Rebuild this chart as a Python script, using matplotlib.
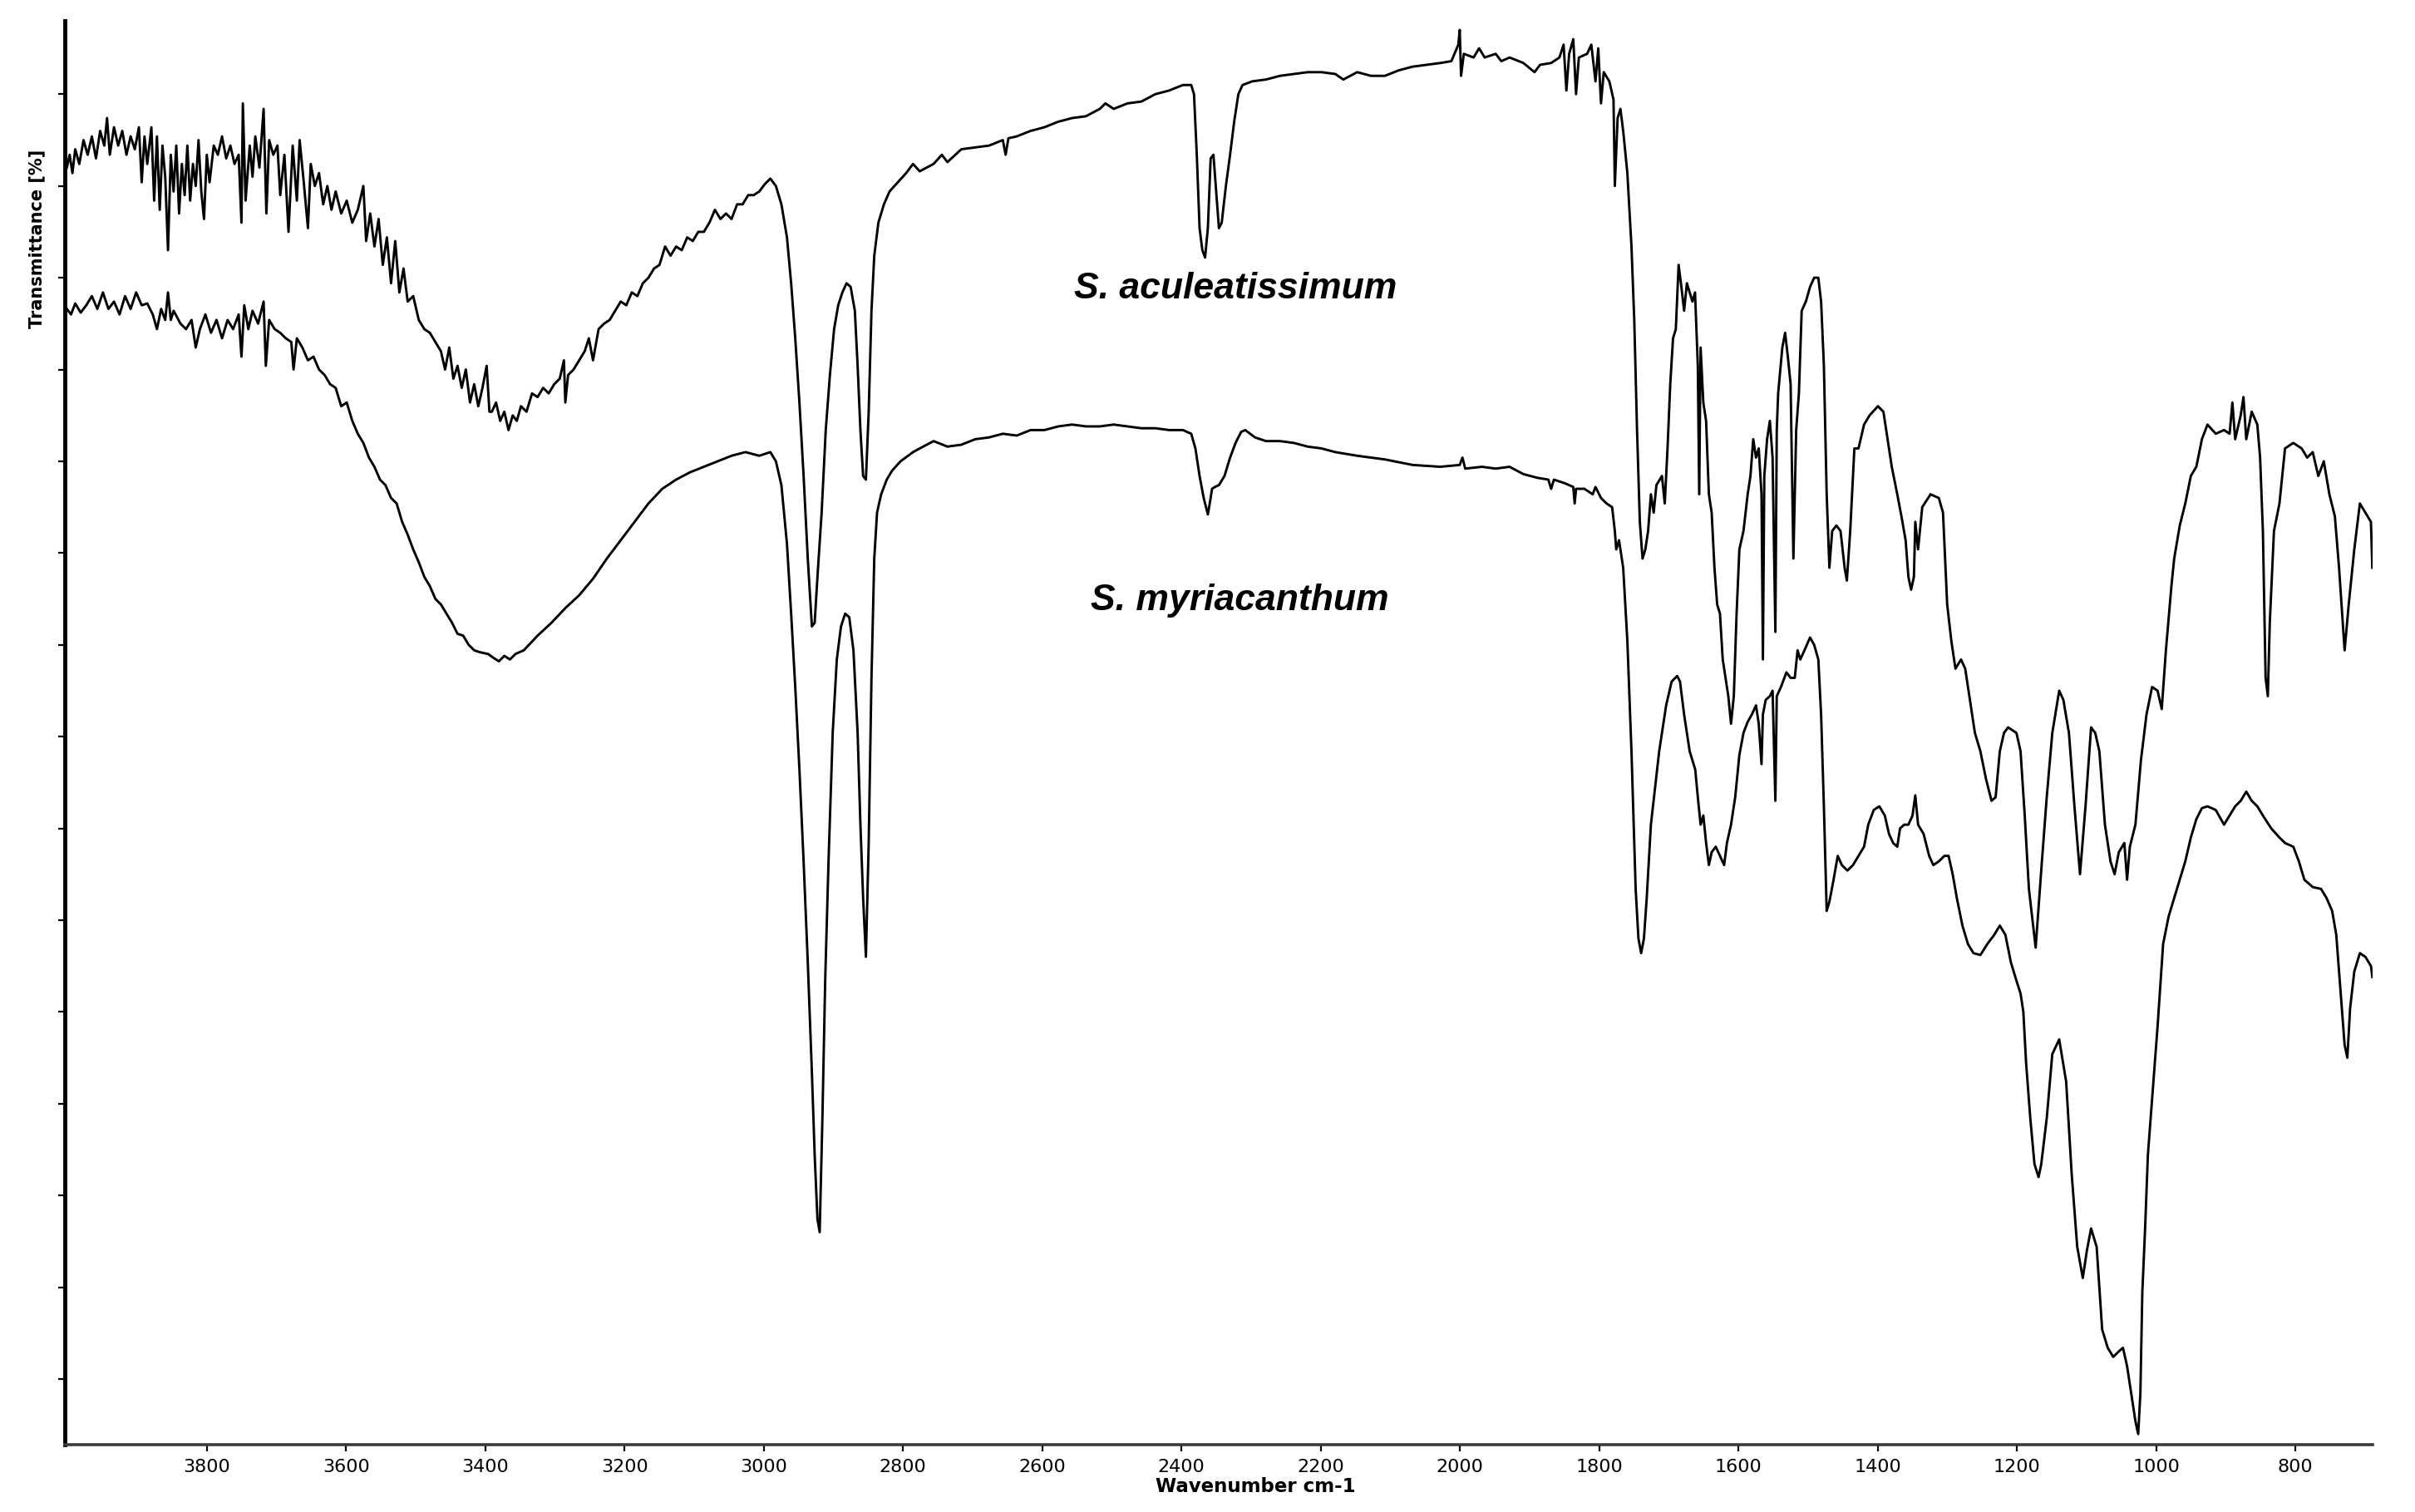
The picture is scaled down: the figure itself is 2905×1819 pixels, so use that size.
import matplotlib
matplotlib.use("Agg")
import matplotlib.pyplot as plt
from matplotlib.ticker import FixedLocator, NullFormatter

# ---------------- data ----------------
# S. aculeatissimum (upper trace): wavenumber (cm-1) and transmittance (a.u.)
wn_acu = [4001.1, 3997.1, 3993.1, 3989.1, 3983.2, 3977.2, 3971.2, 3965.2, 3959.3, 3953.3, 3947.3, 3943.4, 3939.4, 3933.4,
          3927.4, 3921.5, 3915.5, 3909.5, 3903.5, 3897.6, 3893.6, 3889.6, 3885.6, 3879.7, 3875.7, 3871.7, 3867.7, 3863.8,
          3859.8, 3855.8, 3851.8, 3847.8, 3843.9, 3839.9, 3835.9, 3831.9, 3828.0, 3824.0, 3820.0, 3816.0, 3812.0, 3808.0,
          3804.1, 3800.1, 3796.1, 3790.1, 3784.2, 3778.2, 3772.2, 3766.2, 3760.3, 3754.3, 3750.3, 3748.3, 3744.4, 3738.4,
          3734.4, 3730.4, 3724.5, 3718.5, 3714.5, 3710.5, 3704.6, 3698.6, 3694.6, 3688.6, 3682.7, 3676.7, 3670.7, 3666.7,
          3660.8, 3654.8, 3650.8, 3644.9, 3638.9, 3632.9, 3626.9, 3621.0, 3615.0, 3607.0, 3599.1, 3591.1, 3583.2, 3575.2,
          3571.2, 3565.3, 3559.3, 3553.3, 3547.3, 3541.4, 3535.4, 3529.4, 3523.5, 3517.5, 3511.5, 3503.6, 3495.6, 3487.6,
          3479.7, 3471.7, 3463.8, 3457.8, 3451.8, 3445.9, 3439.9, 3433.9, 3428.0, 3422.0, 3416.0, 3410.1, 3404.1, 3398.1,
          3394.1,
          3390.6, 3384.6, 3378.6, 3372.7, 3366.7, 3360.7, 3354.8, 3348.8, 3340.8, 3332.9, 3324.9, 3316.9, 3309.0, 3301.0,
          3293.1, 3287.1, 3285.1, 3281.1, 3273.2, 3265.2, 3257.2, 3251.3, 3245.3, 3237.3, 3229.4, 3221.4, 3213.5, 3205.5,
          3197.5, 3189.6, 3181.6, 3173.7, 3165.7, 3157.7, 3149.8, 3141.8, 3133.9, 3125.9, 3117.9, 3110.0, 3102.0, 3094.1,
          3086.1, 3078.1, 3070.2, 3062.2, 3054.3, 3046.3, 3038.3, 3030.4, 3022.4, 3014.5, 3006.5, 2998.5, 2990.6, 2982.6,
          2974.7, 2966.7, 2960.7, 2954.8, 2948.8, 2942.8, 2936.8, 2930.9, 2926.9, 2922.9, 2916.9, 2911.0, 2905.0, 2899.0,
          2893.1, 2887.1, 2881.1, 2875.2, 2869.2, 2865.2, 2861.2, 2857.3, 2853.3, 2849.3, 2845.3, 2841.3, 2835.4, 2827.4,
          2819.4, 2807.5, 2795.6, 2785.6,
          2776.0, 2756.1, 2744.2, 2736.2, 2716.3, 2696.4, 2676.5, 2656.6, 2652.6, 2648.6, 2636.7, 2616.8, 2596.9, 2577.0,
          2557.1, 2537.2, 2517.3, 2509.3, 2497.4, 2477.5, 2457.6, 2437.7, 2417.8, 2397.9, 2386.0, 2382.0, 2378.0, 2374.0,
          2370.0, 2366.1, 2362.1, 2358.1, 2354.1, 2350.1, 2346.2, 2342.2, 2336.2, 2330.2, 2324.3, 2318.3, 2312.3, 2298.4,
          2278.5, 2258.6, 2238.7, 2218.8, 2198.9, 2179.0,
          2167.5, 2147.6, 2127.7, 2107.8, 2087.9, 2068.0, 2048.1, 2028.2, 2012.3, 2002.3, 2000.3, 1998.4, 1994.4, 1980.4,
          1972.5, 1964.5, 1948.6, 1940.6, 1928.7, 1908.8, 1892.9, 1884.9, 1869.0, 1857.1, 1851.1, 1847.1, 1843.1, 1837.2,
          1833.2, 1829.2, 1817.3, 1811.3, 1805.3, 1801.3, 1797.4, 1793.4, 1785.4, 1779.4, 1777.5, 1773.5, 1769.5, 1765.5,
          1759.5, 1753.6, 1749.6, 1745.6, 1741.6, 1737.7, 1733.7, 1729.7, 1725.7, 1721.7, 1717.8, 1709.8, 1705.8, 1701.8,
          1697.9, 1693.9, 1689.9, 1685.9, 1681.9, 1678.0, 1674.0, 1670.0, 1666.0,
          1662.3, 1658.3, 1656.3, 1654.3, 1650.4, 1646.4, 1642.4, 1638.4, 1634.4, 1630.5, 1626.5, 1622.5, 1618.5, 1614.5,
          1610.6, 1606.6, 1602.6, 1598.6, 1592.7, 1586.7, 1582.7, 1578.7, 1574.7, 1570.8, 1566.8, 1564.8, 1562.8, 1558.8,
          1554.8, 1550.9, 1546.9, 1544.9, 1542.9, 1536.9, 1532.9, 1529.0, 1525.0, 1521.0, 1517.0, 1513.1, 1509.1, 1503.1,
          1497.1, 1491.2, 1485.2, 1481.2, 1477.2, 1473.2, 1469.3, 1465.3, 1459.3, 1453.3, 1447.4, 1444.2, 1439.4, 1433.4,
          1427.5, 1419.5, 1411.6, 1399.6, 1391.7, 1387.7, 1379.7, 1371.8, 1365.8, 1359.8, 1355.8, 1351.9, 1347.9, 1345.9,
          1341.9, 1335.9, 1324.0, 1312.1, 1306.1, 1300.1, 1294.1, 1288.2, 1280.2, 1274.2, 1268.3, 1260.3, 1252.4, 1244.4,
          1236.4, 1230.5, 1224.5, 1218.5, 1212.6, 1200.6, 1194.7, 1188.7, 1182.7,
          1173.0, 1169.0, 1165.0, 1157.1, 1149.1, 1139.2, 1133.2, 1125.2, 1117.3, 1109.3, 1101.4, 1093.4, 1087.4, 1081.5,
          1073.5, 1065.5, 1059.6, 1053.6, 1045.6, 1041.7, 1037.7, 1029.7, 1021.8, 1013.8, 1005.8, 997.9, 991.9, 985.9,
          978.0, 974.0, 966.0, 958.1, 950.1, 942.2, 934.2, 926.2, 914.3, 902.4, 894.4, 890.4, 886.4, 878.5, 874.5, 870.5,
          862.6, 854.6, 850.6, 846.6, 842.7, 839.5, 836.7, 830.7, 822.8, 814.8, 802.9, 790.9, 783.0, 775.0, 767.0, 759.1,
          751.1, 743.2, 737.2, 729.2, 723.3, 715.3, 707.3, 699.4, 691.4, 689.4]
t_acu = [66.0, 66.7, 65.7, 67.0, 66.2, 67.5, 66.7, 67.7, 66.5, 68.0, 67.2, 68.7, 66.7, 68.2,
         67.2, 68.0, 66.7, 67.7, 67.0, 68.2, 65.2, 67.7, 66.2, 68.2, 64.2, 67.7, 63.7, 67.2,
         65.5, 61.5, 66.7, 64.7, 67.2, 63.5, 66.2, 64.5, 67.2, 64.2, 66.2, 65.0, 67.5, 64.7,
         63.2, 66.7, 65.2, 67.2, 66.7, 67.7, 66.5, 67.2, 66.2, 66.7, 63.0, 69.5, 64.2, 67.2,
         65.5, 67.7, 66.0, 69.2, 63.5, 67.5, 66.7, 67.2, 64.5, 66.7, 62.5, 67.2, 64.2, 67.5,
         65.2, 62.7, 66.2, 65.0, 65.7, 64.0, 65.0, 63.7, 64.7, 63.5, 64.2, 63.0, 63.7, 65.0,
         62.0, 63.5, 61.7, 63.2, 60.7, 62.2, 59.7, 62.0, 59.2, 60.5, 58.7, 59.0, 57.7, 57.2,
         57.0, 56.5, 56.0, 55.0, 56.2, 54.5, 55.2, 54.0, 55.0, 53.2, 54.2, 53.0, 54.0, 55.2,
         52.7,
         52.7, 53.2, 52.2, 52.7, 51.7, 52.5, 52.2, 53.0, 52.7, 53.7, 53.5, 54.0, 53.7, 54.2,
         54.5, 55.5, 53.2, 54.7, 55.0, 55.5, 56.0, 56.7, 55.5, 57.2, 57.5, 57.7, 58.2, 58.7,
         58.5, 59.2, 59.0, 59.7, 60.0, 60.5, 60.7, 61.7, 61.2, 61.7, 61.5, 62.2, 62.0, 62.5,
         62.5, 63.0, 63.7, 63.2, 63.5, 63.2, 64.0, 64.0, 64.5, 64.5, 64.7, 65.1, 65.4, 65.0,
         64.0, 62.2, 59.7, 56.7, 53.2, 49.2, 44.7, 41.0, 41.2, 43.7, 47.2, 51.7, 54.7, 57.2,
         58.5, 59.2, 59.7, 59.5, 58.2, 55.2, 51.7, 49.2, 49.0, 52.7, 58.2, 61.2, 63.0, 64.0,
         64.7, 65.2, 65.7, 66.2,
         65.8, 66.2, 66.7, 66.3, 67.0, 67.1, 67.2, 67.5, 66.7, 67.6, 67.7, 68.0, 68.2, 68.5,
         68.7, 68.8, 69.2, 69.5, 69.2, 69.5, 69.6, 70.0, 70.2, 70.5, 70.5, 70.0, 66.7, 62.7,
         61.5, 61.1, 62.7, 66.5, 66.7, 64.7, 62.7, 63.0, 65.0, 66.7, 68.5, 70.0, 70.5, 70.7,
         70.8, 71.0, 71.1, 71.2, 71.2, 71.1,
         70.8, 71.2, 71.0, 71.0, 71.3, 71.5, 71.6, 71.7, 71.8, 72.7, 73.5, 71.0, 72.2, 72.0,
         72.5, 72.0, 72.2, 71.8, 72.0, 71.7, 71.2, 71.6, 71.7, 72.0, 72.7, 70.2, 72.2, 73.0,
         70.0, 72.0, 72.2, 72.7, 70.7, 72.5, 69.5, 71.2, 70.7, 69.7, 65.0, 68.7, 69.2, 68.0,
         65.7, 61.7, 57.7, 51.7, 46.7, 44.7, 45.2, 46.2, 48.2, 47.2, 48.7, 49.2, 47.7, 50.7,
         54.2, 56.7, 57.2, 60.7, 59.5, 58.2, 59.7, 59.2, 58.7,
         59.2, 55.2, 48.2, 56.2, 53.2, 52.2, 48.2, 47.2, 44.2, 42.2, 41.7, 39.2, 38.2, 37.2,
         35.7, 37.2, 41.7, 45.2, 46.2, 48.2, 49.2, 51.2, 50.2, 50.7, 48.2, 39.2, 49.2, 51.2,
         52.2, 50.2, 40.7, 51.7, 53.7, 56.2, 57.0, 55.7, 54.2, 44.7, 51.7, 53.7, 58.2, 58.7,
         59.5, 60.0, 60.0, 58.7, 55.2, 48.2, 44.2, 46.2, 46.5, 46.2, 44.2, 43.5, 46.2, 50.7,
         50.7, 52.0, 52.5, 53.0, 52.7, 51.7, 49.7, 48.2, 47.0, 45.7, 43.7, 43.0, 43.7, 46.7,
         45.2, 47.5, 48.2, 48.0, 47.2, 42.2, 40.2, 38.7, 39.2, 38.7, 37.2, 35.2, 34.2, 32.7,
         31.5, 31.7, 34.2, 35.2, 35.5, 35.2, 34.2, 30.7, 26.7,
         23.5, 25.6, 27.7, 31.7, 35.2, 37.5, 37.0, 35.2, 31.2, 27.5, 31.2, 35.5, 35.2, 34.2,
         30.2, 28.2, 27.5, 28.7, 29.2, 27.2, 29.0, 30.2, 33.7, 36.2, 37.7, 37.5, 36.5, 39.7,
         43.2, 44.7, 46.5, 47.7, 49.2, 49.7, 51.2, 52.0, 51.5, 51.7, 51.5, 53.2, 51.2, 52.5, 53.5, 51.2,
         52.7, 52.0, 50.2, 46.2, 38.2, 37.2, 41.2, 46.2, 47.7, 50.7, 51.0, 50.7, 50.2, 50.5, 49.2, 50.0,
         48.2, 47.0, 44.2, 39.7, 42.2, 45.2, 47.7, 47.2, 46.7, 44.2]

# S. myriacanthum (lower trace)
wn_myr = [4001.1, 3995.1, 3989.1, 3981.2, 3973.2, 3965.2, 3957.3, 3949.3, 3941.4, 3933.4, 3925.4, 3917.5, 3909.5, 3901.6,
          3893.6, 3885.6, 3877.7, 3871.7, 3865.7, 3859.8, 3855.8, 3851.8, 3847.8, 3837.9, 3829.9, 3822.0, 3816.0, 3810.0,
          3802.1, 3794.1, 3786.1, 3778.2, 3770.2, 3762.3, 3754.3, 3750.3, 3746.3, 3740.4, 3734.4, 3726.4, 3718.5, 3715.3,
          3710.5, 3702.6, 3694.6, 3686.6, 3678.7, 3675.5, 3670.7, 3662.8, 3654.8, 3646.8, 3638.9, 3630.9, 3623.0, 3615.0,
          3607.0, 3599.1, 3591.1, 3583.2, 3575.2, 3567.2, 3559.3, 3551.3, 3543.4, 3535.4, 3527.4, 3519.5, 3511.5, 3503.6,
          3495.6, 3487.6, 3479.7, 3471.7, 3463.8, 3455.8, 3447.8, 3439.9, 3431.9, 3423.9, 3416.0, 3408.0, 3396.1,
          3388.6, 3380.6, 3372.7, 3364.7, 3356.7, 3344.8, 3324.9, 3305.0, 3285.1, 3265.2, 3245.3, 3225.4, 3205.5, 3185.6,
          3165.7, 3145.8, 3125.9, 3106.0, 3086.1, 3066.2, 3046.3, 3026.4, 3006.5, 2990.6, 2982.6, 2974.7, 2966.7, 2960.7,
          2954.8, 2948.8, 2942.8, 2936.8, 2930.9, 2926.9, 2922.9, 2919.7, 2915.8, 2911.8, 2907.0, 2901.0, 2895.1, 2889.1,
          2883.1, 2877.2, 2871.2, 2865.2, 2861.2, 2857.3, 2853.3, 2849.3, 2845.3, 2841.3, 2837.3, 2831.4, 2823.4, 2815.5,
          2803.5, 2785.6,
          2776.0, 2756.1, 2736.2, 2716.3, 2696.4, 2676.5, 2656.6, 2636.7, 2616.8, 2596.9, 2577.0, 2557.1, 2537.2, 2517.3,
          2497.4, 2477.5, 2457.6, 2437.7, 2417.8, 2397.9, 2386.0, 2380.0, 2374.0, 2368.1, 2362.1, 2358.1, 2356.1, 2352.1,
          2346.2, 2338.2, 2330.2, 2322.3, 2314.3, 2308.4, 2294.4, 2278.5, 2258.6, 2238.7, 2218.8, 2198.9, 2179.0,
          2147.6, 2107.8, 2068.0, 2028.2, 2000.3, 1996.4, 1992.4, 1968.5, 1948.6, 1928.7, 1908.8, 1888.9, 1873.0, 1869.0,
          1865.0, 1849.1, 1837.2, 1835.2, 1833.2, 1821.2, 1809.3, 1805.3, 1797.4, 1789.4, 1781.4, 1777.5, 1775.5, 1771.5,
          1765.5, 1759.5, 1753.6, 1747.6, 1743.6, 1739.7, 1735.7, 1731.7, 1725.7, 1719.8, 1713.8, 1707.8, 1703.8, 1695.9,
          1687.9, 1683.9, 1678.0, 1670.0, 1662.0,
          1658.3, 1654.3, 1650.4, 1646.4, 1642.4, 1638.4, 1632.5, 1626.5, 1620.5, 1616.5, 1610.6, 1604.6, 1598.6, 1592.7,
          1586.7, 1580.7, 1574.7, 1570.8, 1566.8, 1564.8, 1560.8, 1554.8, 1550.9, 1546.9, 1544.9, 1538.9, 1531.0, 1525.0,
          1519.0, 1515.0, 1511.1, 1505.1, 1497.1, 1491.2, 1485.2, 1481.2, 1477.2, 1473.2, 1469.3, 1463.3, 1457.3, 1451.4,
          1443.4, 1435.4, 1427.5, 1419.5, 1413.5, 1405.6, 1397.6, 1389.7, 1383.7, 1377.7, 1371.8, 1367.8, 1361.8, 1355.8,
          1349.9, 1345.9, 1341.9, 1334.0, 1326.0, 1320.0, 1312.1, 1304.1, 1298.1, 1292.2, 1286.2, 1278.2, 1270.3, 1262.3,
          1252.4, 1242.4, 1232.5, 1224.5, 1216.5, 1208.6, 1200.6, 1194.7, 1190.7, 1186.7, 1180.7, 1174.7, 1168.8,
          1165.0, 1157.1, 1149.1, 1139.2, 1129.2, 1121.3, 1113.3, 1105.3, 1099.4, 1093.4, 1085.4, 1077.5, 1069.5, 1061.6,
          1053.6, 1047.6, 1041.7, 1033.7, 1029.7, 1025.7, 1022.6, 1019.8, 1015.8, 1011.8, 1005.8, 997.9, 989.9, 982.0,
          974.0, 966.0, 958.1, 950.1, 942.2, 934.2, 926.2, 914.3, 902.4, 894.4, 886.4, 878.5, 870.5, 862.6, 854.6, 846.6,
          834.7, 822.8, 814.8, 802.9, 794.9, 787.0, 775.0, 763.1, 755.1, 747.1, 741.2, 735.2, 729.2, 725.3, 721.3, 715.3,
          707.3, 699.4, 691.4, 689.4]
t_myr = [58.3, 58.0, 58.6, 58.1, 58.5, 59.0, 58.3, 59.2, 58.3, 58.7, 58.0, 59.0, 58.3, 59.2,
         58.5, 58.6, 58.0, 57.2, 58.3, 57.7, 59.2, 57.7, 58.2, 57.5, 57.2, 57.7, 56.2, 57.2,
         58.0, 57.0, 57.7, 56.7, 57.7, 57.2, 58.0, 55.7, 58.5, 57.2, 58.2, 57.5, 58.7, 55.2,
         57.7, 57.2, 57.0, 56.7, 56.5, 55.0, 56.7, 56.2, 55.5, 55.7, 55.0, 54.7, 54.2, 54.0,
         53.0, 53.2, 52.2, 51.5, 51.0, 50.2, 49.7, 49.0, 48.7, 48.0, 47.7, 46.7, 46.0, 45.2,
         44.5, 43.7, 43.2, 42.5, 42.2, 41.7, 41.2, 40.6, 40.5, 40.0, 39.7, 39.6, 39.5,
         39.3, 39.1, 39.4, 39.2, 39.5, 39.7, 40.5, 41.2, 42.0, 42.7, 43.6, 44.7, 45.7, 46.7,
         47.7, 48.5, 49.0, 49.4, 49.7, 50.0, 50.3, 50.5, 50.3, 50.5, 50.0, 48.7, 45.5, 41.7,
         37.7, 33.2, 28.2, 22.7, 16.7, 12.2, 8.7, 8.0, 14.2, 21.7, 28.2, 35.2, 39.2, 41.0,
         41.7, 41.5, 39.7, 35.2, 30.2, 26.2, 23.0, 29.2, 38.2, 44.7, 47.2, 48.2, 49.0, 49.5,
         50.0, 50.5,
         50.7, 51.1, 50.8, 50.9, 51.2, 51.3, 51.5, 51.4, 51.7, 51.7, 51.9, 52.0, 51.9, 51.9,
         52.0, 51.9, 51.8, 51.8, 51.7, 51.7, 51.5, 50.7, 49.2, 48.0, 47.1, 48.0, 48.5, 48.6,
         48.7, 49.2, 50.2, 51.0, 51.6, 51.7, 51.3, 51.1, 51.1, 51.0, 50.8, 50.7, 50.5,
         50.3, 50.1, 49.8, 49.7, 49.8, 50.2, 49.6, 49.7, 49.6, 49.7, 49.3, 49.1, 49.0, 48.5,
         49.0, 48.8, 48.6, 47.7, 48.5, 48.5, 48.2, 48.6, 48.0, 47.7, 47.5, 46.2, 45.2, 45.7,
         44.2, 40.2, 34.2, 26.7, 24.0, 23.2, 24.0, 26.2, 30.2, 32.2, 34.2, 35.7, 36.7, 38.0,
         38.3, 38.0, 36.2, 34.2, 33.2,
         31.7, 30.2, 30.7, 29.2, 28.0, 28.7, 29.0, 28.5, 28.0, 29.2, 30.2, 31.7, 34.0, 35.2,
         35.8, 36.2, 36.7, 35.7, 33.5, 36.2, 37.0, 37.2, 37.5, 31.5, 37.2, 37.7, 38.5, 38.2,
         38.2, 39.7, 39.2, 39.7, 40.4, 40.0, 39.2, 36.2, 31.2, 25.5, 26.0, 27.2, 28.5, 28.0,
         27.7, 28.0, 28.5, 29.0, 30.2, 31.0, 31.2, 30.7, 29.7, 29.2, 29.0, 30.0, 30.2, 30.2,
         30.7, 31.8, 30.2, 29.7, 28.5, 28.0, 28.2, 28.5, 28.5, 27.5, 26.2, 24.7, 23.7, 23.2,
         23.1, 23.7, 24.2, 24.7, 24.2, 22.7, 21.7, 21.0, 20.0, 17.2, 14.2, 11.7, 11.0,
         11.7, 14.2, 17.7, 18.5, 16.2, 11.2, 7.2, 5.5, 7.0, 8.2, 7.2, 2.7, 1.7, 1.2,
         1.5, 1.7, 0.7, -1.3, -2.3, -3.0, -0.8, 4.7, 8.2, 12.2, 15.2, 19.2, 23.7, 25.2,
         26.2, 27.2, 28.2, 29.5, 30.5, 31.1, 31.2, 31.0, 30.2, 30.7, 31.2, 31.5, 32.0, 31.5, 31.2, 30.7,
         30.0, 29.5, 29.2, 29.0, 28.2, 27.2, 26.8, 26.7, 26.2, 25.5, 24.2, 21.2, 18.2, 17.5, 20.2, 22.2,
         23.2, 23.0, 22.5, 21.9]

x_ticks = [3800, 3600, 3400, 3200, 3000, 2800, 2600, 2400, 2200, 2000, 1800, 1600, 1400, 1200, 1000, 800]
y_ticks = [0, 5, 10, 15, 20, 25, 30, 35, 40, 45, 50, 55, 60, 65, 70]

labels = ["S. aculeatissimum", "S. myriacanthum"]
label_pos = [(2554, 59.4), (2530, 42.4)]

# ---------------- figure ----------------
W, H = 2905, 1819
fig = plt.figure(figsize=(W / 100, H / 100), dpi=100)
ax = fig.add_axes([78 / W, 1 - 1738 / H, (2854 - 78) / W, (1738 - 25) / H])

ax.plot(wn_acu, t_acu, color="black", lw=2.1)
ax.plot(wn_myr, t_myr, color="black", lw=2.1)

ax.set_xlim(4004, 689)
ax.set_ylim(-3.58, 74.0)

ax.xaxis.set_major_locator(FixedLocator(x_ticks))
ax.yaxis.set_major_locator(FixedLocator(y_ticks))
ax.yaxis.set_major_formatter(NullFormatter())
ax.tick_params(axis="x", direction="out", length=6, width=1.6, labelsize=16, pad=6,
               colors="black")
ax.tick_params(axis="y", direction="out", length=5.5, width=1.6)

for s in ("top", "right"):
    ax.spines[s].set_visible(False)
ax.spines["left"].set_linewidth(3.5)
ax.spines["left"].set_color("black")
ax.spines["bottom"].set_linewidth(2.6)
ax.spines["bottom"].set_color("#3a3a3a")

ax.set_xlabel("Wavenumber cm-1", fontsize=16.5, fontweight="bold")
ax.xaxis.set_label_coords((1510 - 78) / (2854 - 78), -0.0225)
ax.set_ylabel("Transmittance [%]", fontsize=15, fontweight="bold", va="center")
ax.yaxis.set_label_coords(-0.0123, 0.847)

for txt, (xx, yy) in zip(labels, label_pos):
    ax.text(xx, yy, txt, fontsize=32, fontweight="bold", fontstyle="italic",
            family=["Liberation Sans", "DejaVu Sans"], ha="left", va="center")

fig.savefig("out.png", dpi=100, facecolor="white")
